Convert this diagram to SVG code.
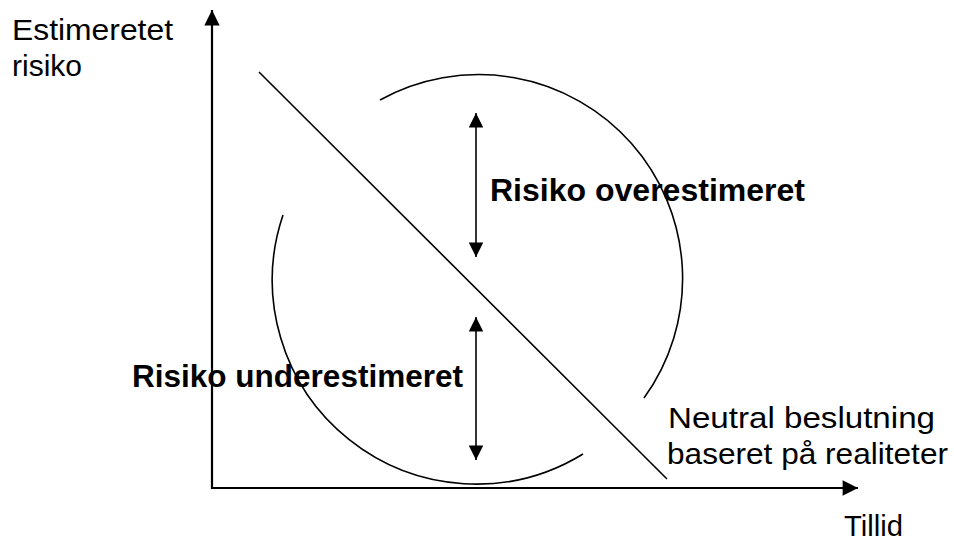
<svg xmlns="http://www.w3.org/2000/svg" width="954" height="541" viewBox="0 0 954 541">
<style>
.ln{stroke:#000;fill:none;stroke-width:1.6}
.ax{stroke:#000;fill:none;stroke-width:2.2}
.t{font-family:"Liberation Sans",Arial,sans-serif;font-size:30px;fill:#000}
.b{font-family:"Liberation Sans",Arial,sans-serif;font-size:31px;font-weight:bold;fill:#000}
</style>
<defs>
<marker id="ah" viewBox="0 0 10 10" refX="10" refY="5" markerWidth="9.5" markerHeight="9" markerUnits="strokeWidth" orient="auto-start-reverse">
<path d="M0,0 L10,5 L0,10 z" fill="#000"/>
</marker>
<marker id="axh" viewBox="0 0 10 10" refX="10" refY="5" markerWidth="7.2" markerHeight="7" markerUnits="strokeWidth" orient="auto">
<path d="M0,0 L10,5 L0,10 z" fill="#000"/>
</marker>
</defs>
<rect width="954" height="541" fill="#fff"/>
<g id="connectors">
<path id="y-axis" class="ax" d="M212,489 L212,10" marker-end="url(#axh)"/>
<path id="x-axis" class="ax" d="M211,488 L858,488" marker-end="url(#axh)"/>
<path id="diagonal" class="ln" d="M259,72 L667,479"/>
<path id="arc-upper" class="ln" d="M380,100 A204,204 0 0 1 644,398"/>
<path id="arc-lower" class="ln" d="M283,215 A204,204 0 0 0 583,454"/>
<path id="arrow-over" class="ln" d="M476,113 L476,257" marker-start="url(#ah)" marker-end="url(#ah)"/>
<path id="arrow-under" class="ln" d="M476,317 L476,460" marker-start="url(#ah)" marker-end="url(#ah)"/>
</g>
<g id="label-y"><text class="t" x="12" y="40" textLength="161" lengthAdjust="spacingAndGlyphs">Estimeretet</text><text class="t" x="12" y="76" textLength="70" lengthAdjust="spacingAndGlyphs">risiko</text></g>
<g id="label-over"><text class="b" x="490" y="201" textLength="315" lengthAdjust="spacingAndGlyphs">Risiko overestimeret</text></g>
<g id="label-under"><text class="b" x="132" y="387" textLength="331" lengthAdjust="spacingAndGlyphs">Risiko underestimeret</text></g>
<g id="label-neutral"><text class="t" x="668" y="428" textLength="267" lengthAdjust="spacingAndGlyphs">Neutral beslutning</text><text class="t" x="667" y="464" textLength="281" lengthAdjust="spacingAndGlyphs">baseret på realiteter</text></g>
<g id="label-x"><text class="t" x="844" y="536" textLength="59" lengthAdjust="spacingAndGlyphs">Tillid</text></g>
</svg>
